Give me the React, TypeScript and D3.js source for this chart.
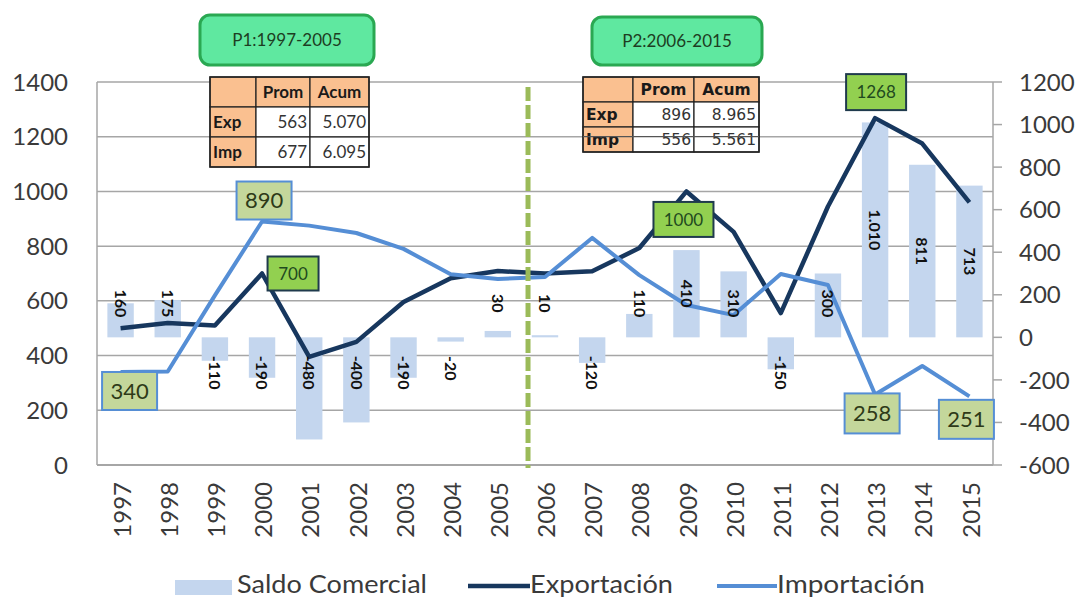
import React from "react";
import * as d3 from "d3";

// ---------- DATA ----------
const years = ["1997","1998","1999","2000","2001","2002","2003","2004","2005","2006","2007","2008","2009","2010","2011","2012","2013","2014","2015"];
const saldoComercial = [160,175,-110,-190,-480,-400,-190,-20,30,10,-120,110,410,310,-150,300,1010,811,713];
const saldoLabels = ["160","175","-110","-190","-480","-400","-190","-20","30","10","-120","110","410","310","-150","300","1.010","811","713"];
const exportacion = [500,519,510,700,395,450,596,683,709,700,708,793,1000,852,555,945,1268,1175,960];
const importacion = [340,342,620,890,875,848,790,697,680,687,830,694,585,548,698,658,258,362,251];
const leftTicks = [0,200,400,600,800,1000,1200,1400];
const rightTicks = [-600,-400,-200,0,200,400,600,800,1000,1200];
const periods = ["P1:1997-2005","P2:2006-2015"];
const tableHeader = ["", "Prom", "Acum"];
const table1Rows = [["Exp","563","5.070"],["Imp","677","6.095"]];
const table2Rows = [["Exp","896","8.965"],["Imp","556","5.561"]];
const legendLabels = ["Saldo Comercial","Exportación","Importación"];

// callouts: which point gets a highlighted label
const callouts = [
  { series: "imp", year: "1997", text: "340" },
  { series: "imp", year: "2000", text: "890" },
  { series: "exp", year: "2000", text: "700" },
  { series: "exp", year: "2009", text: "1000" },
  { series: "exp", year: "2013", text: "1268" },
  { series: "imp", year: "2013", text: "258" },
  { series: "imp", year: "2015", text: "251" },
];

// ---------- LAYOUT (positions / styles) ----------
const W = 1083, H = 601;
const PL = 97, PR = 993, PT = 82, PB = 465;
const FONT = "Lato, 'Open Sans', sans-serif";
const C = {
  bar: "#c4d6ee",
  exp: "#17375e",
  imp: "#558ed5",
  grid: "#a6a6a6",
  text: "#3a3a3a",
  divider: "#9bbb59",
  peach: "#fac090",
  lightBox: "#c4d79b",
  greenBox: "#92d050",
  pFill: "#5fe8a0",
  pStroke: "#2aa852",
};
const calloutStyle: Record<string, { dx: number; dy: number; w: number; h: number; fs: number; light: boolean }> = {
  "imp-1997": { dx: 9, dy: 19, w: 55, h: 38, fs: 22, light: true },
  "imp-2000": { dx: 2, dy: -21, w: 55, h: 38, fs: 22, light: true },
  "exp-2000": { dx: 31, dy: 0, w: 51, h: 34, fs: 17, light: false },
  "exp-2009": { dx: -3, dy: 28, w: 60, h: 35, fs: 17, light: false },
  "exp-2013": { dx: 1, dy: -26, w: 60, h: 36, fs: 17, light: false },
  "imp-2013": { dx: -3, dy: 19, w: 55, h: 40, fs: 22, light: true },
  "imp-2015": { dx: -3, dy: 23, w: 55, h: 39, fs: 22, light: true },
};

function Table({ x, y, cols, rowH, rows, fs, family }: any) {
  const all = [tableHeader, ...rows];
  const xs = [x];
  cols.forEach((c: number) => xs.push(xs[xs.length - 1] + c));
  const totalW = xs[xs.length - 1] - x;
  const totalH = rowH * all.length;
  return (
    <g>
      {all.map((r, ri) =>
        r.map((cell, ci) => {
          const peach = ri === 0 || ci === 0;
          const cx = xs[ci], cy = y + ri * rowH;
          const w = cols[ci];
          const bold = peach;
          let tx = cx + 3, anchor = "start";
          if (ri === 0) { tx = cx + w / 2; anchor = "middle"; }
          else if (ci > 0) { tx = cx + w - 3; anchor = "end"; }
          return (
            <g key={ri + "-" + ci}>
              <rect x={cx} y={cy} width={w} height={rowH} fill={peach ? C.peach : "#fff"} stroke="#222" strokeWidth={1.2} />
              <text x={tx} y={cy + rowH / 2} dy="0.36em" textAnchor={anchor} fontSize={fs} fontFamily={family}
                fontWeight={bold ? 700 : 400} fill={bold ? "#1a1a1a" : "#333"}>{cell}</text>
            </g>
          );
        })
      )}
      <rect x={x} y={y} width={totalW} height={totalH} fill="none" stroke="#222" strokeWidth={1.5} />
    </g>
  );
}

export default function App() {
  const x = d3.scaleBand<string>().domain(years).range([PL, PR]).paddingInner(0).paddingOuter(0);
  const bw = x.bandwidth();
  const cx = (yr: string) => (x(yr) as number) + bw / 2;
  const yL = d3.scaleLinear().domain([0, 1400]).range([PB, PT]);
  const yR = d3.scaleLinear().domain([-600, 1200]).range([PB, PT]);
  const base = yR(0);

  const line = d3.line<number>().x((_, i) => cx(years[i])).y((v) => yL(v));
  const barW = bw * 0.56;

  const dividerX = (x("2005") as number) + bw * 1.14;

  return (
    <svg width={W} height={H} viewBox={`0 0 ${W} ${H}`} style={{ position: "absolute", left: 0, top: 0, background: "#fff" }}>
      <rect width={W} height={H} fill="#fff" />
      {/* gridlines */}
      {leftTicks.filter((t) => t > 0).map((t) => (
        <line key={"g" + t} x1={PL} x2={PR} y1={yL(t)} y2={yL(t)} stroke={C.grid} strokeWidth={1.5} />
      ))}
      {/* axes lines */}
      <line x1={PL} x2={PL} y1={PT} y2={PB} stroke={C.grid} strokeWidth={1.5} />
      <line x1={PR} x2={PR} y1={PT} y2={PB} stroke={C.grid} strokeWidth={1.5} />
      <line x1={PL} x2={PR} y1={PB} y2={PB} stroke={C.grid} strokeWidth={2} />
      {rightTicks.map((t) => (
        <line key={"rt" + t} x1={PR} x2={PR + 9} y1={yR(t)} y2={yR(t)} stroke={C.grid} strokeWidth={1.5} />
      ))}

      {/* left axis labels */}
      {leftTicks.map((t) => (
        <text key={"l" + t} x={68} y={yL(t)} dy="0.36em" textAnchor="end" fontSize={24} fontFamily={FONT} fill={C.text}>{t}</text>
      ))}
      {/* right axis labels */}
      {rightTicks.map((t) => (
        <text key={"r" + t} x={1019} y={yR(t)} dy="0.36em" textAnchor="start" fontSize={24} fontFamily={FONT} fill={C.text}>{t}</text>
      ))}
      {/* x labels */}
      {years.map((yr) => (
        <text key={"x" + yr} transform={`translate(${cx(yr) + 1.5},482) rotate(-90)`} textAnchor="end" dy="0.36em"
          fontSize={24} fontFamily={FONT} fill={C.text}>{yr}</text>
      ))}

      {/* bars */}
      {saldoComercial.map((v, i) => {
        const y0 = yR(Math.max(0, v)), y1 = yR(Math.min(0, v));
        return <rect key={"b" + i} x={cx(years[i]) - barW / 2} y={y0} width={barW} height={Math.max(1.5, y1 - y0)} fill={C.bar} />;
      })}

      {/* lines */}
      <path d={line(exportacion) as string} fill="none" stroke={C.exp} strokeWidth={4.5} strokeLinejoin="round" />
      <path d={line(importacion) as string} fill="none" stroke={C.imp} strokeWidth={4} strokeLinejoin="round" />

      {/* bar labels */}
      {saldoComercial.map((v, i) => {
        const lbl = saldoLabels[i];
        const len = lbl.length * 8.6;
        let cy: number;
        if (v >= 0) {
          const mid = (yR(v) + base) / 2;
          cy = Math.min(mid, base - 34);
        } else {
          cy = base + 18 + len / 2;
        }
        return (
          <text key={"bl" + i} transform={`translate(${cx(years[i])},${cy}) rotate(90)`} textAnchor="middle" dy="0.36em"
            fontSize={16} fontWeight={700} fontFamily={FONT} fill="#111">{lbl}</text>
        );
      })}

      {/* divider */}
      <line x1={dividerX} x2={dividerX} y1={87} y2={468} stroke={C.divider} strokeWidth={5} strokeDasharray="14 4" />

      {/* callouts */}
      {callouts.map((c) => {
        const i = years.indexOf(c.year);
        const v = c.series === "exp" ? exportacion[i] : importacion[i];
        const st = calloutStyle[c.series + "-" + c.year];
        const px = cx(c.year) + st.dx, py = yL(v) + st.dy;
        return (
          <g key={"c" + c.series + c.year}>
            <rect x={px - st.w / 2} y={py - st.h / 2} width={st.w} height={st.h}
              fill={st.light ? C.lightBox : C.greenBox} stroke={st.light ? C.imp : "#1f3a4d"} strokeWidth={2} />
            <text x={px} y={py} dy="0.36em" textAnchor="middle" fontSize={st.fs} fontFamily={FONT}
              fill={st.light ? "#2e3a18" : "#1f4a1f"}>{c.text}</text>
          </g>
        );
      })}

      {/* period boxes */}
      <rect x={200} y={15} width={174} height={50} rx={10} fill={C.pFill} stroke={C.pStroke} strokeWidth={3} />
      <text x={287} y={40} dy="0.36em" textAnchor="middle" fontSize={17} fontFamily={FONT} fill="#1d3d22">{periods[0]}</text>
      <rect x={592} y={17} width={170} height={48} rx={10} fill={C.pFill} stroke={C.pStroke} strokeWidth={3} />
      <text x={677} y={41} dy="0.36em" textAnchor="middle" fontSize={17} fontFamily={FONT} fill="#1d3d22">{periods[1]}</text>

      {/* tables */}
      <Table x={210} y={77} cols={[46, 54, 59]} rowH={30} rows={table1Rows} fs={17} family={FONT} />
      <Table x={583} y={77} cols={[50, 61, 65]} rowH={25} rows={table2Rows} fs={15.5} family="'DejaVu Sans', sans-serif" />
      <line x1={583} x2={759} y1={yL(1200)} y2={yL(1200)} stroke="#555" strokeWidth={1.2} />

      {/* legend */}
      <rect x={175} y={580} width={57} height={15} fill={C.bar} />
      <text x={237} y={593} fontSize={25} fontFamily={FONT} fill={C.text} textLength={190} lengthAdjust="spacingAndGlyphs">{legendLabels[0]}</text>
      <line x1={468} x2={530} y1={586} y2={586} stroke={C.exp} strokeWidth={4.5} />
      <text x={530} y={593} fontSize={25} fontFamily={FONT} fill={C.text} textLength={143} lengthAdjust="spacingAndGlyphs">{legendLabels[1]}</text>
      <line x1={717} x2={777} y1={586} y2={586} stroke={C.imp} strokeWidth={4} />
      <text x={777} y={593} fontSize={25} fontFamily={FONT} fill={C.text} textLength={148} lengthAdjust="spacingAndGlyphs">{legendLabels[2]}</text>
    </svg>
  );
}
